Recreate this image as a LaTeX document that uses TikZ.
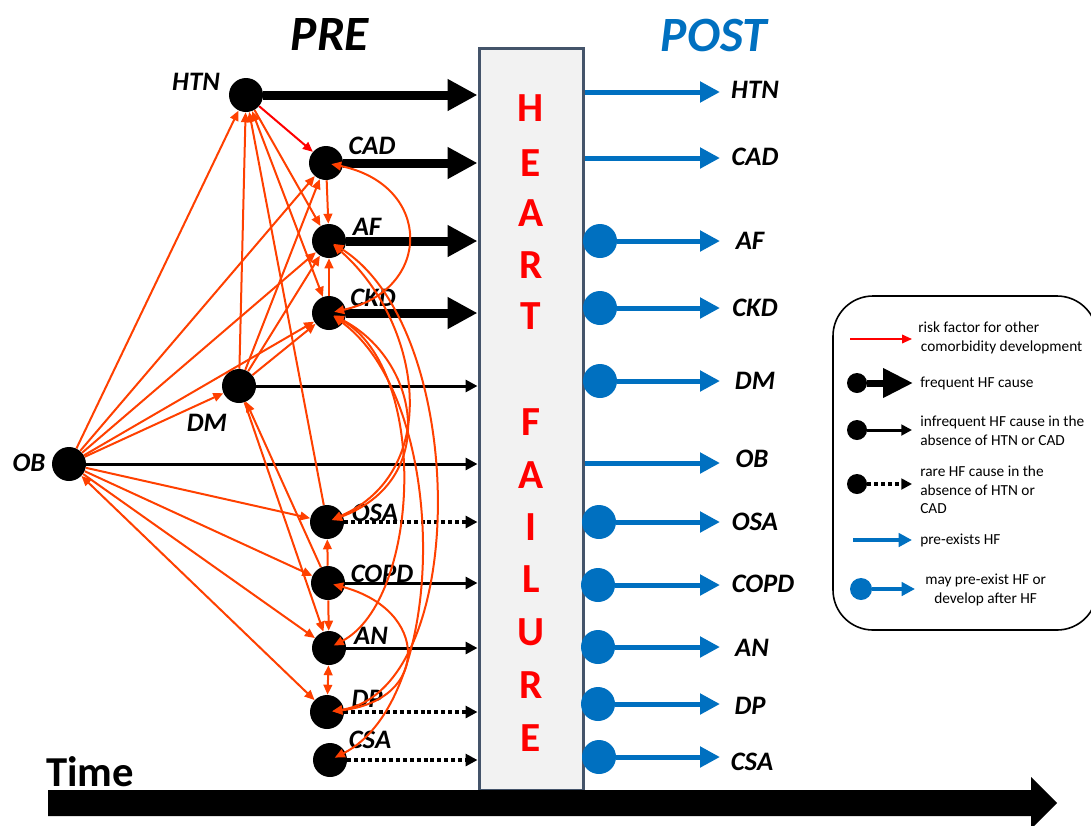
\documentclass[tikz,border=0pt]{standalone}
\usepackage{fontspec}
\setmainfont{Carlito}
\usetikzlibrary{arrows.meta}
\definecolor{rfred}{RGB}{255,64,0}
\definecolor{hfblue}{RGB}{0,112,192}
\definecolor{boxgray}{RGB}{242,242,242}
\definecolor{boxedge}{RGB}{68,84,106}
\tikzset{
 dot/.style={circle, fill=black, minimum size=25.5pt, inner sep=0pt},
 bdot/.style={circle, fill=hfblue, minimum size=25.5pt, inner sep=0pt},
 ldot/.style={circle, fill=black, minimum size=15pt, inner sep=0pt},
 lbdot/.style={circle, fill=hfblue, minimum size=16.5pt, inner sep=0pt},
 lab/.style={font=\fontsize{20}{24}\selectfont\bfseries\itshape, inner sep=0pt},
 big/.style={font=\fontsize{37}{40}\selectfont\bfseries\itshape, inner sep=0pt},
 hfl/.style={font=\fontsize{31}{34}\selectfont\bfseries, text=red, inner sep=0pt},
 leg/.style={font=\fontsize{11.5}{14}\selectfont, anchor=west, align=left, inner sep=0pt},
 rf/.style={draw=rfred, line width=1.5pt, -{Triangle[length=7.5pt,width=6.5pt]}},
 rfb/.style={draw=rfred, line width=1.5pt, {Triangle[length=7.5pt,width=6.5pt]}-{Triangle[length=7.5pt,width=6.5pt]}},
 freq/.style={line width=6.75pt, -{Triangle[length=22.5pt,width=22.5pt]}},
 infreq/.style={line width=2.25pt, -{Triangle[length=9pt,width=9pt]}},
 rare/.style={line width=3pt, dash pattern=on 3pt off 2.2pt, -{Triangle[length=9pt,width=9pt]}},
 pre/.style={draw=hfblue, line width=3.75pt, -{Triangle[length=15pt,width=15pt]}},
}
\begin{document}
\begin{tikzpicture}[x=0.75pt,y=-0.75pt]
\useasboundingbox (0,0) rectangle (1091,825);

% heart failure box
\node[draw=boxedge, fill=boxgray, line width=2.25pt, minimum width=78pt, minimum height=556.5pt, inner sep=0pt] (HF) at (531,419) {};
\node[hfl] (h1) at (531,108) {H};
\node[hfl] (h2) at (531,163) {E};
\node[hfl] (h3) at (531,213) {A};
\node[hfl] (h4) at (531,265) {R};
\node[hfl] (h5) at (531,316) {T};
\node[hfl] (h6) at (531,422) {F};
\node[hfl] (h7) at (531,475) {A};
\node[hfl] (h8) at (531,527) {I};
\node[hfl] (h9) at (531,579) {L};
\node[hfl] (h10) at (531,632) {U};
\node[hfl] (h11) at (531,685) {R};
\node[hfl] (h12) at (531,738) {E};

% titles
\node[big] (tPRE) at (330,35) {PRE};
\node[big, text=hfblue] (tPOST) at (714,35) {POST};

% pre nodes
\node[dot] (HTN) at (246,95) {};
\node[dot] (CAD) at (326,163) {};
\node[dot] (AF) at (329,241) {};
\node[dot] (CKD) at (329,313) {};
\node[dot] (DM) at (239,386) {};
\node[dot] (OB) at (69,464) {};
\node[dot] (OSA) at (327,522) {};
\node[dot] (COPD) at (328,583) {};
\node[dot] (AN) at (329,648) {};
\node[dot] (DP) at (327,712) {};
\node[dot] (CSA) at (330,760) {};

\node[lab] (lHTN) at (196,82) {HTN};
\node[lab] (lCAD) at (372,146) {CAD};
\node[lab] (lAF) at (367,227) {AF};
\node[lab] (lCKD) at (373,298) {CKD};
\node[lab] (lDM) at (207,423) {DM};
\node[lab] (lOB) at (29,463) {OB};
\node[lab] (lOSA) at (375,513) {OSA};
\node[lab] (lCOPD) at (382,574) {COPD};
\node[lab] (lAN) at (371,636) {AN};
\node[lab] (lDP) at (367,699) {DP};
\node[lab] (lCSA) at (370,740) {CSA};

% black arrows into HF
\draw[freq] (HTN) -- (HF.west |- HTN);
\draw[freq] (CAD) -- (HF.west |- CAD);
\draw[freq] (AF) -- (HF.west |- AF);
\draw[freq] (CKD) -- (HF.west |- CKD);
\draw[infreq] (DM) -- (HF.west |- DM);
\draw[infreq] (OB) -- (HF.west |- OB);
\draw[rare] (OSA) -- (HF.west |- OSA);
\draw[infreq] (COPD) -- (HF.west |- COPD);
\draw[infreq] (AN) -- (HF.west |- AN);
\draw[rare] (DP) -- (HF.west |- DP);
\draw[rare] (CSA) -- (HF.west |- CSA);

% red straight arrows
\draw[rf] (OB) -- (HTN);
\draw[rf] (OB) -- (CAD);
\draw[rf] (OB) -- (AF);
\draw[rf] (OB) -- (CKD);
\draw[rf] (OB) -- (DM);
\draw[rf] (OB) -- (OSA);
\draw[rf] (OB) -- (COPD);
\draw[rf] (OB) -- (AN);
\draw[rfb] (OB) -- (DP);
\draw[rf] (DM) -- (HTN);
\draw[rf] (DM) -- (CAD);
\draw[rf] (DM) -- (AF);
\draw[rf] (DM) -- (CKD);
\draw[rf] (DM) -- (AN);
\draw[rf] (COPD) -- (DM);
\draw[rf, draw=red] (HTN) -- (CAD);
\draw[rf] (HTN) -- (AF);
\draw[rfb] (HTN) -- (CKD);
\draw[rf] (OSA) -- (HTN);
\draw[rf] (CAD) -- (AF);
\draw[rf] (CKD) -- (AF);
\draw[rf] (COPD) -- (OSA);
\draw[rf] (COPD) -- (AN);
\draw[rfb] (AN) -- (DP);

% red curves
\draw[rfb, shorten <=4pt, shorten >=4pt] (CAD.center) .. controls (433,185) and (433,290) .. (CKD.center);
\draw[rfb, shorten <=4pt, shorten >=4pt] (AF.center) .. controls (420,320) and (445,470) .. (OSA.center);
\draw[rfb, shorten <=4pt, shorten >=4pt] (CKD.center) .. controls (420,360) and (440,480) .. (OSA.center);
\draw[rfb, shorten <=4pt, shorten >=4pt] (CKD.center) .. controls (430,370) and (420,600) .. (AN.center);
\draw[rfb, shorten <=4pt, shorten >=4pt] (AF.center) .. controls (470,330) and (470,690) .. (DP.center);
\draw[rfb, shorten <=4pt, shorten >=4pt] (CKD.center) .. controls (450,400) and (450,700) .. (CSA.center);
\draw[rfb, shorten <=4pt, shorten >=4pt] (COPD.center) .. controls (430,610) and (430,700) .. (DP.center);

% post side
\coordinate (pend) at (720,0);
\node[lab] (pHTN) at (755,90) {HTN};
\node[lab] (pCAD) at (755,157) {CAD};
\node[lab] (pAF) at (750,241) {AF};
\node[lab] (pCKD) at (755,308) {CKD};
\node[lab] (pDM) at (755,381) {DM};
\node[lab] (pOB) at (752,459) {OB};
\node[lab] (pOSA) at (755,522) {OSA};
\node[lab] (pCOPD) at (763,584) {COPD};
\node[lab] (pAN) at (752,648) {AN};
\node[lab] (pDP) at (750,706) {DP};
\node[lab] (pCSA) at (752,762) {CSA};

\coordinate (sHTN) at (583,92);
\coordinate (sCAD) at (583,158);
\coordinate (sOB) at (583,463);
\draw[pre] (HF.east |- sHTN) -- (pend |- sHTN);
\draw[pre] (HF.east |- sCAD) -- (pend |- sCAD);
\draw[pre] (HF.east |- sOB) -- (pend |- sOB);

\node[bdot] (qAF) at (600,241) {};
\node[bdot] (qCKD) at (600,308) {};
\node[bdot] (qDM) at (600,381) {};
\node[bdot] (qOSA) at (599,522) {};
\node[bdot] (qCOPD) at (598,585) {};
\node[bdot] (qAN) at (598,647) {};
\node[bdot] (qDP) at (598,704) {};
\node[bdot] (qCSA) at (599,757) {};
\foreach \q in {qAF,qCKD,qDM,qOSA,qCOPD,qAN,qDP,qCSA}
  \draw[pre] (\q) -- (pend |- \q);

% legend
\draw[line width=1.2pt, rounded corners=30pt] (833,296) rectangle (1097,630);
\coordinate (la) at (850,339);
\coordinate (lae) at (912,339);
\draw[rf, draw=red, line width=1.2pt] (la) -- (lae);
\node[leg] (t1) at (918,338) {risk factor for other\\\hspace{2pt}comorbidity development};

\node[ldot] (lb) at (857,383) {};
\coordinate (lbe) at (913,383);
\draw[line width=5.25pt, -{Triangle[length=22.5pt,width=21pt]}] (lb) -- (lbe);
\node[leg] (t2) at (920,383) {frequent HF cause};

\node[ldot] (lc) at (857,430) {};
\coordinate (lce) at (912,430);
\draw[line width=2.25pt, -{Triangle[length=8pt,width=8pt]}] (lc) -- (lce);
\node[leg] (t3) at (920,431) {infrequent HF cause in the\\absence of HTN or CAD};

\node[ldot] (ld) at (857,484) {};
\coordinate (lde) at (912,484);
\draw[line width=3pt, dash pattern=on 3pt off 2.2pt, -{Triangle[length=8pt,width=8pt]}] (ld) -- (lde);
\node[leg] (t4) at (920,490) {rare HF cause in the\\absence of HTN or\\CAD};

\coordinate (le) at (853,540);
\coordinate (lee) at (912,540);
\draw[draw=hfblue, line width=3pt, -{Triangle[length=10pt,width=10pt]}] (le) -- (lee);
\node[leg] (t5) at (920,540) {pre-exists HF};

\node[lbdot] (lf) at (861,589) {};
\coordinate (lfe) at (915,589);
\draw[draw=hfblue, line width=3pt, -{Triangle[length=10pt,width=10pt]}] (lf) -- (lfe);
\node[leg, align=center] (t6) at (925,590) {may pre-exist HF or\\develop after HF};

% time axis
\node[font=\fontsize{32}{36}\selectfont\bfseries, inner sep=0pt] (time) at (90,772) {Time};
\fill (48,790) -- (1031,790) -- (1031,777) -- (1057,803) -- (1031,829) -- (1031,816) -- (48,816) -- cycle;
\end{tikzpicture}
\end{document}
